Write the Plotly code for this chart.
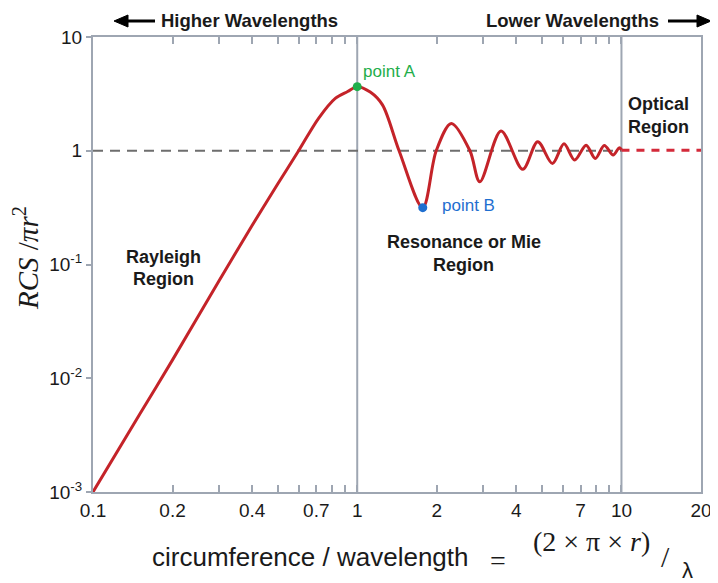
import plotly.graph_objects as go

# ---- data ----
x_curve = [0.1, 0.15, 0.2, 0.3, 0.4, 0.5, 0.6, 0.714, 0.826, 0.92, 1.0, 1.12, 1.246, 1.44, 1.77,
           1.99, 2.27, 2.67, 2.91, 3.5, 4.23, 4.82, 5.48, 6.06, 6.65, 7.35, 7.96, 8.61, 9.3, 9.8, 10.0]
y_curve = [0.001, 0.0048, 0.0145, 0.072, 0.22, 0.51, 1.0, 1.93, 2.89, 3.32, 3.66, 3.28, 2.53, 1.0, 0.316,
           1.0, 1.74, 1.0, 0.533, 1.49, 0.687, 1.20, 0.773, 1.15, 0.828, 1.12, 0.855, 1.11, 0.917, 1.06, 1.02]
x_optical = [10, 20]
y_optical = [1.01, 1.01]
x_ref = [0.1, 10]
y_ref = [1, 1]
point_a = (1.0, 3.66)
point_b = (1.77, 0.316)
x_tickvals = [0.1, 0.2, 0.3, 0.4, 0.5, 0.6, 0.7, 0.8, 0.9, 1, 2, 3, 4, 5, 6, 7, 8, 9, 10, 20]
x_ticktext = ["0.1", "0.2", "", "0.4", "", "", "0.7", "", "", "1", "2", "", "4", "", "", "7", "", "", "10", "20"]
y_tickvals = [0.001, 0.01, 0.1, 1, 10]
y_ticktext = ["10<sup>-3</sup>", "10<sup>-2</sup>", "10<sup>-1</sup>", "1", "10"]

# page body has an 8px default margin -> figure drawn 8px right/down
OFF = 8
W, H = 718 - OFF, 583 - OFF
L, R, T, B = 93 - OFF, 17, 37 - OFF, 91
# plot area in screen pixels
SL, ST = 93, 37
PW, PH = W - L - R, H - T - B


def px(x):
    return (x - SL) / PW


def py(y):
    return (ST + PH - y) / PH


AXC = "#9ea6b2"
RED = "#c42329"
SANS = "Liberation Sans"
SERIF = "Liberation Serif"
TXT = "#1a1a1a"

fig = go.Figure()
fig.add_trace(go.Scatter(x=x_ref, y=y_ref, mode="lines",
                         line=dict(color="#6e6e6e", width=2, dash="10px,7px"), hoverinfo="skip"))
fig.add_trace(go.Scatter(x=x_curve, y=y_curve, mode="lines",
                         line=dict(color=RED, width=3, shape="spline", smoothing=0.9)))
fig.add_trace(go.Scatter(x=x_optical, y=y_optical, mode="lines",
                         line=dict(color="#d42a3a", width=3, dash="8px,7px")))
fig.add_trace(go.Scatter(x=[point_a[0]], y=[point_a[1]], mode="markers",
                         marker=dict(color="#1fae4b", size=9)))
fig.add_trace(go.Scatter(x=[point_b[0]], y=[point_b[1]], mode="markers",
                         marker=dict(color="#1f6fd0", size=9)))

shapes = []
for xv in [1, 10]:
    shapes.append(dict(type="line", xref="x", yref="paper", x0=xv, x1=xv, y0=0, y1=1,
                       line=dict(color=AXC, width=2), layer="below"))
# header arrows
ay = py(21)
shapes.append(dict(type="line", xref="paper", yref="paper", x0=px(126), x1=px(155), y0=ay, y1=ay,
                   line=dict(color="black", width=3)))
shapes.append(dict(type="path", xref="paper", yref="paper",
                   path=f"M {px(114)},{ay} L {px(128)},{py(15)} L {px(128)},{py(27)} Z",
                   fillcolor="black", line=dict(color="black", width=1)))
shapes.append(dict(type="line", xref="paper", yref="paper", x0=px(668), x1=px(698), y0=ay, y1=ay,
                   line=dict(color="black", width=3)))
shapes.append(dict(type="path", xref="paper", yref="paper",
                   path=f"M {px(711)},{ay} L {px(697)},{py(15)} L {px(697)},{py(27)} Z",
                   fillcolor="black", line=dict(color="black", width=1)))

bold = dict(family=SANS, size=18, color=TXT)
ann = []


def add(text, x, y, font, xanchor="center", yanchor="middle", **kw):
    ann.append(dict(text=text, x=px(x), y=py(y), xref="paper", yref="paper", showarrow=False,
                    xanchor=xanchor, yanchor=yanchor, font=font, **kw))


add("<b>Higher Wavelengths</b>", 249, 21, dict(family=SANS, size=18.5, color=TXT))
add("<b>Lower Wavelengths</b>", 572, 21, dict(family=SANS, size=18.5, color=TXT))
add("<b>Rayleigh</b>", 163, 257, bold)
add("<b>Region</b>", 163, 279, bold)
add("<b>Resonance or Mie</b>", 464, 242, bold)
add("<b>Region</b>", 463, 265, bold)
add("<b>Optical</b>", 658, 104, bold)
add("<b>Region</b>", 658, 127, bold)
add("point A", 361, 72, dict(family=SANS, size=17, color="#1fae4b"), xanchor="left")
add("point B", 440, 205, dict(family=SANS, size=17, color="#1f6fd0"), xanchor="left")
add("<i>RCS</i> /<i>πr</i><sup>2</sup>", 26, 258, dict(family=SERIF, size=29, color=TXT), textangle=-90)
add("circumference / wavelength", 310, 557, dict(family=SANS, size=26, color=TXT))
add("=", 498, 560, dict(family=SERIF, size=28, color=TXT))
add("(2 × π × <i>r</i>)", 591, 541, dict(family=SERIF, size=28, color=TXT))
add("/", 665, 556, dict(family=SERIF, size=30, color=TXT))
add("λ", 687, 570, dict(family=SANS, size=22, color=TXT))

fig.update_layout(
    width=W, height=H, margin=dict(l=L, r=R, t=T, b=B, autoexpand=False),
    plot_bgcolor="white", paper_bgcolor="white", showlegend=False,
    shapes=shapes, annotations=ann,
    xaxis=dict(type="log", range=[-1, 1.30103], tickvals=x_tickvals, ticktext=x_ticktext,
               ticks="inside", ticklen=7, tickwidth=1.5, tickcolor=AXC, showline=True, linecolor=AXC,
               linewidth=2, mirror="ticks", showgrid=False, zeroline=False, automargin=False,
               tickfont=dict(family=SANS, size=19, color=TXT), tickprefix="<b>", ticksuffix="</b>"),
    yaxis=dict(type="log", range=[-3, 1], tickvals=y_tickvals, ticktext=y_ticktext,
               ticks="outside", ticklen=5, tickwidth=1.5, tickcolor=AXC, showline=True, linecolor=AXC,
               linewidth=2, mirror=True, showgrid=False, zeroline=False, automargin=False,
               tickfont=dict(family=SANS, size=19, color=TXT), tickprefix="<b>", ticksuffix="</b>"),
)
fig.write_html("out.html")
